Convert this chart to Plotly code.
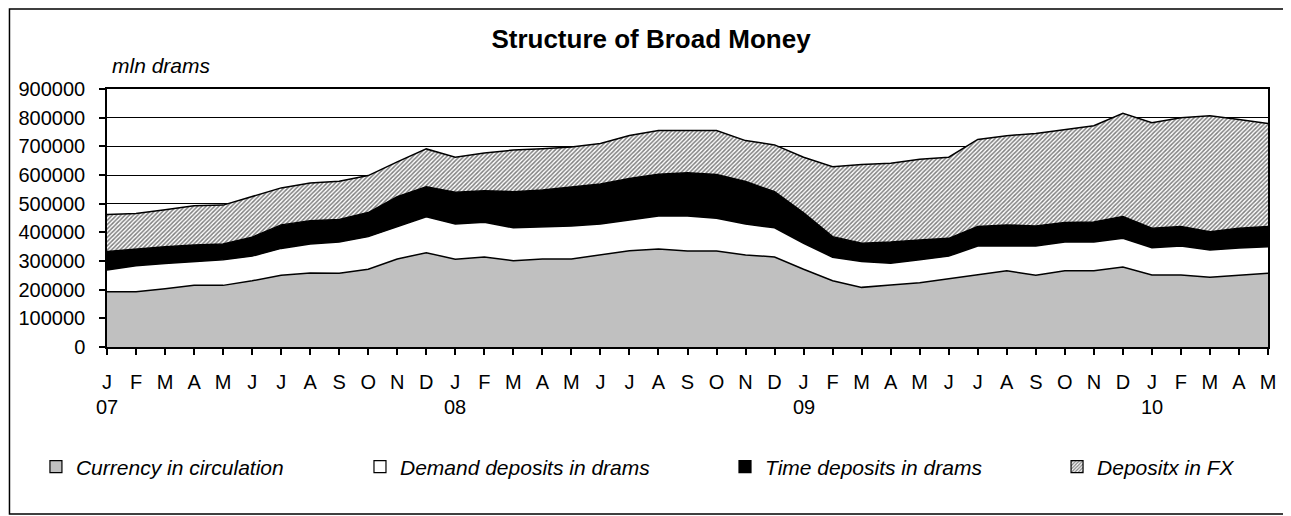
import plotly.graph_objects as go

# monthly data, Jan 2007 .. May 2010, mln drams
month_letters = ["J", "F", "M", "A", "M", "J", "J", "A", "S", "O", "N", "D"]
month_labels = (month_letters * 4)[:41]
year_labels = ["07", "08", "09", "10"]
year_pos = [0, 12, 24, 36]

currency = [193000, 193000, 203000, 215000, 215000, 231000, 250000, 258000, 257000, 271000,
            307000, 329000, 306000, 314000, 301000, 307000, 307000, 322000, 336000, 342000,
            335000, 335000, 321000, 314000, 271000, 231000, 208000, 216000, 224000, 238000,
            252000, 266000, 250000, 266000, 266000, 279000, 251000, 251000, 243000, 250000,
            257000]
demand = [76000, 90000, 88000, 83000, 89000, 86000, 94000, 101000, 109000, 114000,
          113000, 125000, 123000, 121000, 115000, 113000, 115000, 107000, 107000, 115000,
          122000, 114000, 108000, 102000, 91000, 82000, 90000, 76000, 80000, 79000,
          100000, 86000, 102000, 100000, 100000, 100000, 95000, 101000, 95000, 95000,
          93000]
time_dep = [64000, 59000, 59000, 58000, 55000, 66000, 82000, 81000, 79000, 84000,
            104000, 105000, 111000, 110000, 126000, 128000, 137000, 140000, 145000, 146000,
            151000, 153000, 148000, 126000, 106000, 72000, 64000, 74000, 69000, 62000,
            68000, 74000, 70000, 68000, 70000, 76000, 68000, 68000, 64000, 69000,
            70000]
fx_dep = [129000, 124000, 129000, 137000, 136000, 141000, 129000, 132000, 133000, 129000,
          122000, 132000, 122000, 132000, 145000, 144000, 139000, 141000, 150000, 152000,
          147000, 153000, 143000, 163000, 194000, 244000, 275000, 275000, 282000, 283000,
          304000, 311000, 323000, 325000, 336000, 360000, 368000, 380000, 405000, 380000,
          360000]

names = ["Currency in circulation", "Demand deposits in drams",
         "Time deposits in drams", "Depositx in FX"]
x = list(range(len(currency)))

FONT = "Liberation Sans, Arial, sans-serif"

fig = go.Figure()

series = [currency, demand, time_dep, fx_dep]
fills = ["#c0c0c0", "white", "black", "white"]
for i, (vals, name, fc) in enumerate(zip(series, names, fills)):
    fig.add_trace(go.Scatter(
        x=x, y=vals, name=name, stackgroup="one", mode="lines",
        line=dict(color="black", width=1.5), fillcolor=fc,
        fillpattern=dict(shape="/", fgcolor="black", bgcolor="white", size=3, solidity=0.5) if i == 3 else None,
        showlegend=False, hoverinfo="skip"))

# legend keys (square swatches), one legend per item to place them like the original
legend_ids = ["legend", "legend2", "legend3", "legend4"]
for i, (name, fc) in enumerate(zip(names, fills)):
    marker = dict(color=fc, line=dict(color="black", width=1.2))
    if i == 3:
        marker["pattern"] = dict(shape="/", fgcolor="black", bgcolor="white", size=3, solidity=0.5)
    fig.add_trace(go.Bar(x=[None], y=[None], name=name, marker=marker,
                         legend=legend_ids[i], showlegend=True))

legend_style = dict(orientation="h", yanchor="middle", y=-0.465, xanchor="left",
                    bgcolor="rgba(0,0,0,0)", borderwidth=0,
                    font=dict(family=FONT, size=21, color="black", style="italic"))
legend_x = [-0.0612, 0.2179, 0.5323, 0.8183]

# page body adds an 8px offset, so the figure is 8px smaller and margins shifted
fig.update_layout(
    width=1283, height=508,
    margin=dict(l=99, r=23, t=81, b=169),
    paper_bgcolor="white", plot_bgcolor="white",
    font=dict(family=FONT, color="black"),
    title=dict(text="<b>Structure of Broad Money</b>", x=0.5012, xanchor="center",
               y=1 - 31 / 508, yanchor="middle", font=dict(family=FONT, size=26, color="black")),
    **{lid: dict(legend_style, x=lx) for lid, lx in zip(legend_ids, legend_x)},
)

fig.update_xaxes(
    range=[0, 40], tickmode="array", tickvals=x, ticktext=month_labels,
    ticks="outside", ticklen=6, tickcolor="black", tickwidth=1.5,
    showline=True, linecolor="black", linewidth=1.5, mirror=True,
    showgrid=False, zeroline=False, ticklabelstandoff=10, automargin=False,
    tickfont=dict(family=FONT, size=20, color="black"),
)
fig.update_yaxes(
    range=[0, 900000], dtick=100000, tickformat="d",
    ticks="outside", ticklen=6, tickcolor="black", tickwidth=1.5,
    showline=True, linecolor="black", linewidth=1.5, mirror=True,
    showgrid=True, gridcolor="black", gridwidth=1.2, zeroline=False,
    ticklabelstandoff=10, automargin=False,
    tickfont=dict(family=FONT, size=20, color="black"),
)

for yl, xp in zip(year_labels, year_pos):
    fig.add_annotation(x=xp, xref="x", y=-0.2326, yref="paper", text=yl, showarrow=False,
                       xanchor="center", yanchor="middle",
                       font=dict(family=FONT, size=20, color="black"))

fig.add_annotation(x=0.0026, xref="paper", y=1.093, yref="paper", text="mln drams",
                   showarrow=False, xanchor="left", yanchor="middle",
                   font=dict(family=FONT, size=21, color="black", style="italic"))

# outer frame around the whole chart
fig.add_shape(type="rect", xref="paper", yref="paper",
              x0=-0.0840, x1=1.0172, y0=-0.6473, y1=1.3101,
              line=dict(color="black", width=1.5), layer="above")

fig.write_html("out.html")
